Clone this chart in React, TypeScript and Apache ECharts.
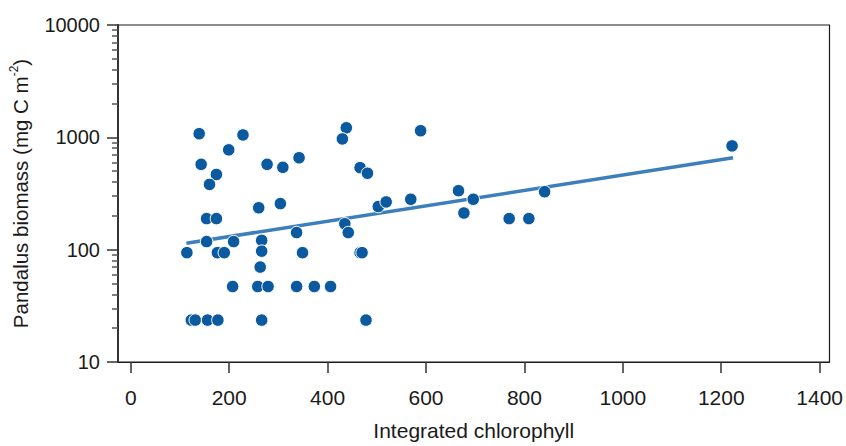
import React, { useEffect, useRef } from "react";
import * as echarts from "echarts";

const chlorophyll = [
  139, 228, 438, 430, 199, 143, 277, 309, 342, 174, 160, 260, 304, 154, 174,
  154, 209, 266, 337, 435, 442, 114, 176, 190, 266, 349, 466, 470, 263, 207,
  258, 279, 337, 373, 406, 123, 131, 156, 177, 266, 478, 589, 466, 481, 503,
  519, 569, 666, 696, 677, 769, 809, 841, 1222,
];
const biomass = [
  1077, 1050, 1216, 968, 774, 575, 575, 541, 658, 467, 381, 236, 257, 189, 189,
  118, 118, 121, 142, 170, 142, 94, 94, 94, 97, 94, 94, 94, 70, 47,
  47, 47, 47, 47, 47, 23.6, 23.6, 23.6, 23.6, 23.6, 23.6, 1145, 537, 479, 242,
  266, 281, 335, 281, 212, 189, 189, 328, 839,
];
const fitX = [113, 1224];
const fitY = [114, 658];

const xTicks = [0, 200, 400, 600, 800, 1000, 1200, 1400];
const yMajorTicks = [10, 100, 1000, 10000];
const yMinorTicks = [
  20, 30, 40, 50, 60, 70, 80, 90,
  200, 300, 400, 500, 600, 700, 800, 900,
  2000, 3000, 4000, 5000, 6000, 7000, 8000, 9000,
];

const FONT = "'Liberation Sans', Arial, Helvetica, sans-serif";

export default function App() {
  const ref = useRef<HTMLDivElement>(null);
  useEffect(() => {
    if (!ref.current) return;
    const chart = echarts.init(ref.current, null, { renderer: "svg" });
    const scatterData = chlorophyll.map((x, i) => [x, biomass[i]]);
    const fitData = fitX.map((x, i) => [x, fitY[i]]);
    const plain = (v: number) => String(Math.round(v));
    chart.setOption({
      animation: false,
      backgroundColor: "#ffffff",
      textStyle: { fontFamily: FONT },
      grid: {
        left: 117,
        right: 11,
        top: 25,
        bottom: 80,
        show: true,
        borderColor: "#1a1a1a",
        borderWidth: 1.2,
        backgroundColor: "transparent",
      },
      xAxis: {
        type: "value",
        min: -26,
        max: 1420,
        name: "Integrated chlorophyll",
        nameLocation: "middle",
        nameGap: 58,
        nameTextStyle: { fontSize: 21, color: "#1a1a1a", fontFamily: FONT },
        axisLine: { show: true, onZero: false, lineStyle: { color: "#1a1a1a", width: 1.2 } },
        axisTick: {
          show: true,
          length: 11,
          customValues: xTicks,
          lineStyle: { color: "#333", width: 1.5 },
        },
        axisLabel: {
          customValues: xTicks,
          formatter: plain,
          fontSize: 21,
          color: "#1a1a1a",
          margin: 25,
          fontFamily: FONT,
        },
        splitLine: { show: false },
      },
      yAxis: [
        {
          type: "log",
          logBase: 10,
          min: 10,
          max: 10000,
          position: "left",
          name: "{a|Pandalus biomass (mg C m}{s|-2}{a|)}",
          nameLocation: "middle",
          nameGap: 86,
          nameRotate: 90,
          nameTextStyle: {
            color: "#1a1a1a",
            rich: {
              a: { fontSize: 20.5, fontFamily: FONT, color: "#1a1a1a", lineHeight: 24 },
              s: {
                fontSize: 12,
                fontFamily: FONT,
                color: "#1a1a1a",
                verticalAlign: "top",
                lineHeight: 24,
              },
            },
          },
          axisLine: { show: true, onZero: false, lineStyle: { color: "#333", width: 2 } },
          axisTick: {
            show: true,
            length: 11,
            customValues: yMajorTicks,
            lineStyle: { color: "#333", width: 1.5 },
          },
          axisLabel: {
            customValues: yMajorTicks,
            formatter: plain,
            fontSize: 20,
            color: "#1a1a1a",
            margin: 18,
            fontFamily: FONT,
          },
          splitLine: { show: false },
          minorTick: { show: false },
        },
        {
          type: "log",
          logBase: 10,
          min: 10,
          max: 10000,
          position: "left",
          axisLine: { show: false, onZero: false },
          axisTick: {
            show: true,
            length: 6,
            customValues: yMinorTicks,
            lineStyle: { color: "#555", width: 1.5 },
          },
          axisLabel: { show: false },
          splitLine: { show: false },
        },
      ],
      series: [
        {
          type: "line",
          data: fitData,
          yAxisIndex: 0,
          symbol: "none",
          lineStyle: { color: "#3d7fbb", width: 3.5 },
          z: 2,
          silent: true,
        },
        {
          type: "scatter",
          data: scatterData,
          yAxisIndex: 0,
          symbol: "circle",
          symbolSize: 12.5,
          itemStyle: { color: "#0b5aa0", opacity: 1, borderColor: "#ffffff", borderWidth: 1 },
          z: 3,
        },
      ],
    });
    return () => chart.dispose();
  }, []);
  return (
    <div
      ref={ref}
      style={{ position: "fixed", left: 0, top: 0, width: 846, height: 446 }}
    />
  );
}
